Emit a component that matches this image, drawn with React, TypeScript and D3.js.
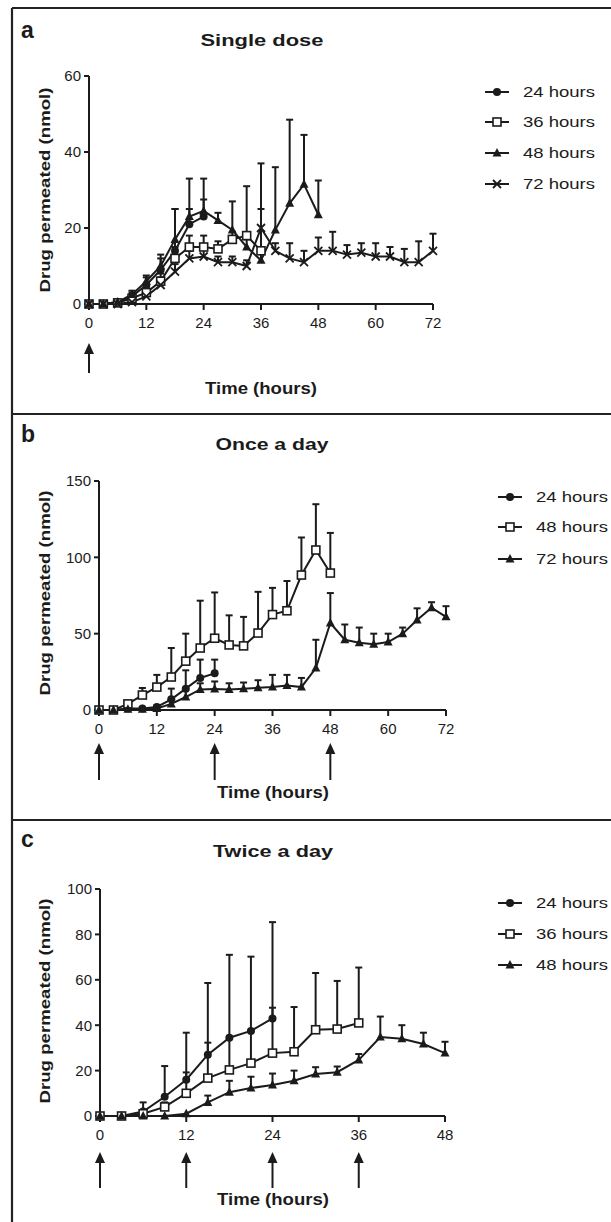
import React from 'react';
import * as d3 from 'd3';

// sampling hours
const hours72 = [0, 3, 6, 9, 12, 15, 18, 21, 24, 27, 30, 33, 36, 39, 42, 45, 48, 51, 54, 57, 60, 63, 66, 69, 72];
const hours48 = [0, 3, 6, 9, 12, 15, 18, 21, 24, 27, 30, 33, 36, 39, 42, 45, 48];

// a: single dose
const a24 = [0, 0, 0.5, 2, 5, 9, 14, 21, 23];
const a24Err = [0, 0, 0.3, 1, 2, 3, 11, 12, 10];
const a36 = [0, 0, 0.3, 1.5, 3, 6, 12, 15, 15, 14.5, 17, 18, 14];
const a36Err = [0, 0, 0.3, 1, 1.5, 2, 3, 3, 3, 2, 2, 13, 23];
const a48 = [0, 0, 0.5, 2.5, 6, 10, 17, 23, 24.5, 22, 19.5, 15, 11.5, 19.5, 26.5, 31.5, 23.5];
const a48Err = [0, 0, 0.3, 1, 1.5, 3, 8, 2, 3, 2, 7.5, 2, 2, 16.5, 22, 13, 9];
const a72 = [0, 0, 0, 0.5, 2, 5, 8.5, 12, 12.5, 11, 11, 10, 20, 14, 12, 11, 14, 14, 13, 13.5, 12.5, 12.5, 11, 11, 14];
const a72Err = [0, 0, 0, 0.3, 1, 2, 2, 2, 2, 1.5, 1.5, 1.5, 5, 2, 4, 3, 3.5, 5, 2.5, 2.5, 3.5, 2.5, 3.5, 5.5, 4.5];

// b: once a day
const b24 = [0, 0, 1, 1, 2, 7, 14, 21, 24];
const b24Err = [0, 0, 0.5, 0.5, 1, 7, 12, 12, 9];
const b48 = [0, 0, 4, 9.8, 15, 21.6, 32, 40.6, 47, 42.6, 42, 50.4, 62.5, 65, 88.4, 104.8, 89.7];
const b48Err = [0, 0, 1, 4.6, 8, 19, 18, 31, 30, 19.4, 19, 27, 17.5, 19.5, 24.6, 30, 26.3];
const b72 = [0, 0, 0.5, 0.5, 1, 4, 8.5, 13.5, 13.7, 13.5, 14, 14.5, 15, 16, 15, 27.5, 57, 46, 44, 43, 44.5, 50, 59, 67, 61];
const b72Err = [0, 0, 0.3, 0.3, 0.5, 3, 5, 4, 5, 4, 4, 5, 8, 7, 6, 18.5, 19.6, 10, 10, 7, 5.5, 4, 7.6, 3.6, 7];

// c: twice a day
const c24 = [0, 0, 2, 8.5, 16, 27, 34.5, 37.5, 43];
const c24Err = [0, 0, 4, 13.5, 20.7, 31.6, 36.5, 32.7, 42.4];
const c36 = [0, 0, 1, 4, 10, 16.7, 20.3, 23.3, 27.7, 28.3, 38, 38.3, 41];
const c36Err = [0, 0, 1, 2, 9.2, 15.6, 14, 14, 20, 19.7, 25, 21.2, 24.4];
const c48 = [0, 0, 0, 0, 1, 6, 10.5, 12.3, 13.7, 15.5, 18.5, 19.3, 24.7, 34.8, 34, 31.7, 27.7];
const c48Err = [0, 0, 0, 0, 0.5, 3, 5, 5, 5, 4.5, 3, 2.5, 2.6, 9, 6, 5, 5];

const xTicks72 = [0, 12, 24, 36, 48, 60, 72];
const xTicks48 = [0, 12, 24, 36, 48];
const yTicksA = [0, 20, 40, 60];
const yTicksB = [0, 50, 100, 150];
const yTicksC = [0, 20, 40, 60, 80, 100];
const dosesA = [0];
const dosesB = [0, 24, 48];
const dosesC = [0, 12, 24, 36];

type Shape = 'circle' | 'square' | 'triangle' | 'cross';

const INK = '#1b1b1b';

const panels = [
  {
    letter: 'a', title: 'Single dose', letterY: 38, titleX: 262, titleY: 46, titleLen: 123,
    xMax: 72, yMax: 60, xTicks: xTicks72, yTicks: yTicksA, doses: dosesA,
    plot: { left: 89, right: 433, top: 76, bottom: 304 },
    yLabelY: 190, timeY: 394, timeX: 261, arrowTip: 343, arrowBottom: 373,
    legendX: 485, legendTextX: 523, legendRows: [92, 122, 153, 184],
    series: [
      { label: '24 hours', shape: 'circle' as Shape, values: a24, errors: a24Err },
      { label: '36 hours', shape: 'square' as Shape, values: a36, errors: a36Err },
      { label: '48 hours', shape: 'triangle' as Shape, values: a48, errors: a48Err },
      { label: '72 hours', shape: 'cross' as Shape, values: a72, errors: a72Err },
    ],
  },
  {
    letter: 'b', title: 'Once a day', letterY: 442, titleX: 272, titleY: 450, titleLen: 113,
    xMax: 72, yMax: 150, xTicks: xTicks72, yTicks: yTicksB, doses: dosesB,
    plot: { left: 99, right: 446, top: 481, bottom: 710 },
    yLabelY: 593, timeY: 798, timeX: 273, arrowTip: 743, arrowBottom: 780,
    legendX: 498, legendTextX: 536, legendRows: [497, 527, 559],
    series: [
      { label: '24 hours', shape: 'circle' as Shape, values: b24, errors: b24Err },
      { label: '48 hours', shape: 'square' as Shape, values: b48, errors: b48Err },
      { label: '72 hours', shape: 'triangle' as Shape, values: b72, errors: b72Err },
    ],
  },
  {
    letter: 'c', title: 'Twice a day', letterY: 847, titleX: 273, titleY: 857, titleLen: 120,
    xMax: 48, yMax: 100, xTicks: xTicks48, yTicks: yTicksC, doses: dosesC,
    plot: { left: 100, right: 445, top: 889, bottom: 1116 },
    yLabelY: 1001, timeY: 1205, timeX: 273, arrowTip: 1152, arrowBottom: 1188,
    legendX: 498, legendTextX: 536, legendRows: [903, 934, 965],
    series: [
      { label: '24 hours', shape: 'circle' as Shape, values: c24, errors: c24Err },
      { label: '36 hours', shape: 'square' as Shape, values: c36, errors: c36Err },
      { label: '48 hours', shape: 'triangle' as Shape, values: c48, errors: c48Err },
    ],
  },
];

function Marker({ shape, x, y }: { shape: Shape; x: number; y: number }) {
  if (shape === 'circle') return <circle cx={x} cy={y} r={4} fill={INK} />;
  if (shape === 'square')
    return <rect x={x - 4} y={y - 4} width={8} height={8} fill="#fff" stroke={INK} strokeWidth={1.6} />;
  if (shape === 'triangle')
    return <path d={`M${x},${y - 5}L${x + 4.5},${y + 3.5}L${x - 4.5},${y + 3.5}Z`} fill={INK} />;
  return (
    <path d={`M${x - 4},${y - 4}L${x + 4},${y + 4}M${x + 4},${y - 4}L${x - 4},${y + 4}`} stroke={INK} strokeWidth={1.8} />
  );
}

function Panel({ p }: { p: (typeof panels)[number] }) {
  const x = d3.scaleLinear().domain([0, p.xMax]).range([p.plot.left, p.plot.right]);
  const y = d3.scaleLinear().domain([0, p.yMax]).range([p.plot.bottom, p.plot.top]);
  const hours = p.xMax === 72 ? hours72 : hours48;
  const line = d3.line<number>().x((_, i) => x(hours[i])).y((d) => y(d));
  const font = 'Arial, "Liberation Sans", sans-serif';

  return (
    <g fontFamily={font} fill={INK}>
      <text x={21} y={p.letterY} fontSize={23} fontWeight="bold">{p.letter}</text>
      <text x={p.titleX} y={p.titleY} fontSize={17} fontWeight="bold" textAnchor="middle"
        textLength={p.titleLen} lengthAdjust="spacingAndGlyphs">{p.title}</text>

      {/* axes */}
      <line x1={p.plot.left} x2={p.plot.left} y1={p.plot.top} y2={p.plot.bottom} stroke={INK} strokeWidth={2} />
      <line x1={p.plot.left} x2={p.plot.right} y1={p.plot.bottom} y2={p.plot.bottom} stroke={INK} strokeWidth={2} />
      {p.yTicks.map((t) => (
        <g key={'y' + t}>
          <line x1={p.plot.left - 5} x2={p.plot.left} y1={y(t)} y2={y(t)} stroke={INK} strokeWidth={2} />
          <text x={p.plot.left - 8} y={y(t)} dy="0.36em" fontSize={15} textAnchor="end">{t}</text>
        </g>
      ))}
      {p.xTicks.map((t) => (
        <g key={'x' + t}>
          <line x1={x(t)} x2={x(t)} y1={p.plot.bottom} y2={p.plot.bottom + 6} stroke={INK} strokeWidth={2} />
          <text x={x(t)} y={p.plot.bottom + 24} fontSize={15} textAnchor="middle">{t}</text>
        </g>
      ))}
      <text transform={`translate(45,${p.yLabelY}) rotate(-90)`} dy="0.36em" fontSize={15} fontWeight="bold"
        textAnchor="middle" textLength={205} lengthAdjust="spacingAndGlyphs">Drug permeated (nmol)</text>
      <text x={p.timeX} y={p.timeY} fontSize={16} fontWeight="bold" textAnchor="middle"
        textLength={112} lengthAdjust="spacingAndGlyphs">Time (hours)</text>

      {/* dosing arrows */}
      {p.doses.map((d) => (
        <g key={'d' + d}>
          <line x1={x(d)} x2={x(d)} y1={p.arrowTip + 8} y2={p.arrowBottom} stroke={INK} strokeWidth={2} />
          <path d={`M${x(d)},${p.arrowTip}L${x(d) + 5},${p.arrowTip + 11}L${x(d) - 5},${p.arrowTip + 11}Z`} fill={INK} />
        </g>
      ))}

      {/* error bars */}
      {p.series.map((s) =>
        s.values.map((v, i) =>
          s.errors[i] > 0.6 ? (
            <g key={s.label + 'e' + i} stroke={INK} strokeWidth={2}>
              <line x1={x(hours[i])} x2={x(hours[i])} y1={y(v)} y2={y(v + s.errors[i])} />
              <line x1={x(hours[i]) - 3.5} x2={x(hours[i]) + 3.5} y1={y(v + s.errors[i])} y2={y(v + s.errors[i])} />
            </g>
          ) : null
        )
      )}
      {p.series.map((s) => (
        <path key={s.label + 'l'} d={line(s.values) || ''} fill="none" stroke={INK} strokeWidth={2} />
      ))}
      {p.series.map((s) =>
        s.values.map((v, i) => <Marker key={s.label + 'm' + i} shape={s.shape} x={x(hours[i])} y={y(v)} />)
      )}

      {/* legend */}
      {p.series.map((s, i) => (
        <g key={s.label + 'lg'}>
          <line x1={p.legendX} x2={p.legendX + 24} y1={p.legendRows[i]} y2={p.legendRows[i]} stroke={INK} strokeWidth={2} />
          <Marker shape={s.shape} x={p.legendX + 12} y={p.legendRows[i]} />
          <text x={p.legendTextX} y={p.legendRows[i]} dy="0.36em" fontSize={15}
            textLength={72} lengthAdjust="spacingAndGlyphs">{s.label}</text>
        </g>
      ))}
    </g>
  );
}

export default function App() {
  return (
    <svg width={611} height={1222} style={{ position: 'absolute', left: 0, top: 0, background: '#fff' }}>
      <rect width={611} height={1222} fill="#fff" />
      <g stroke="#222" strokeWidth={2.2}>
        <line x1={12} x2={611} y1={8} y2={8} />
        <line x1={12} x2={12} y1={8} y2={1222} />
        <line x1={12} x2={611} y1={414} y2={414} />
        <line x1={12} x2={611} y1={820} y2={820} />
      </g>
      {panels.map((p) => (
        <Panel key={p.letter} p={p} />
      ))}
    </svg>
  );
}
